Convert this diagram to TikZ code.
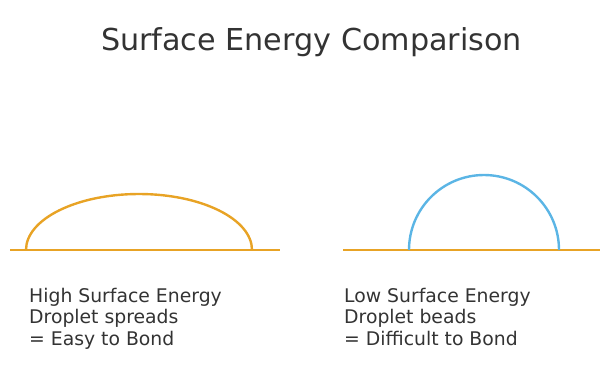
\documentclass[tikz,border=0pt]{standalone}
\usepackage{fontspec}
\setmainfont{DejaVu Sans}
\usetikzlibrary{positioning}

\definecolor{dropwarm}{HTML}{E8A325}
\definecolor{dropcool}{HTML}{5BB5E5}
\definecolor{textgray}{HTML}{333333}

\begin{document}
\begin{tikzpicture}[x=1bp, y=-1bp]
\tikzset{surface/.style =
        {
            line width=2.4bp,
            dropwarm
        }
}

\tikzset{droplet/.style =
        {
            line width=2.4bp
        }
}

\tikzset{caption/.style =
        {
            anchor=base west,
            align=left,
            inner sep=0pt,
            text=textgray,
            font=\fontsize{18.8bp}{21.5bp}\selectfont
        }
}

\tikzset{heading/.style =
        {
            caption,
            anchor=base,
            font=\fontsize{30.2bp}{34bp}\selectfont
        }
}
		\useasboundingbox (0,0) rectangle (612,387);

		\node[heading] (title) at (311.5,50) {Surface Energy Comparison};

		% the two surfaces
		\foreach \start / \finish in {10/280, 343/600}
		\draw[surface] (\start,250) -- (\finish,250);

		% spreading drop and beading drop
		\draw[droplet, dropwarm] (26,250) arc[start angle=180, end angle=360, x radius=113, y radius=56];
		\draw[droplet, dropcool] (409,250) arc[start angle=180, end angle=360, radius=75];

		% base of the last line
		\node[caption] (high) at (29,345) {High Surface Energy\\Droplet spreads\\= Easy to Bond};
		\node[caption] (low) at (344,345) {Low Surface Energy\\Droplet beads\\= Difficult to Bond};

	\end{tikzpicture}
\end{document}
